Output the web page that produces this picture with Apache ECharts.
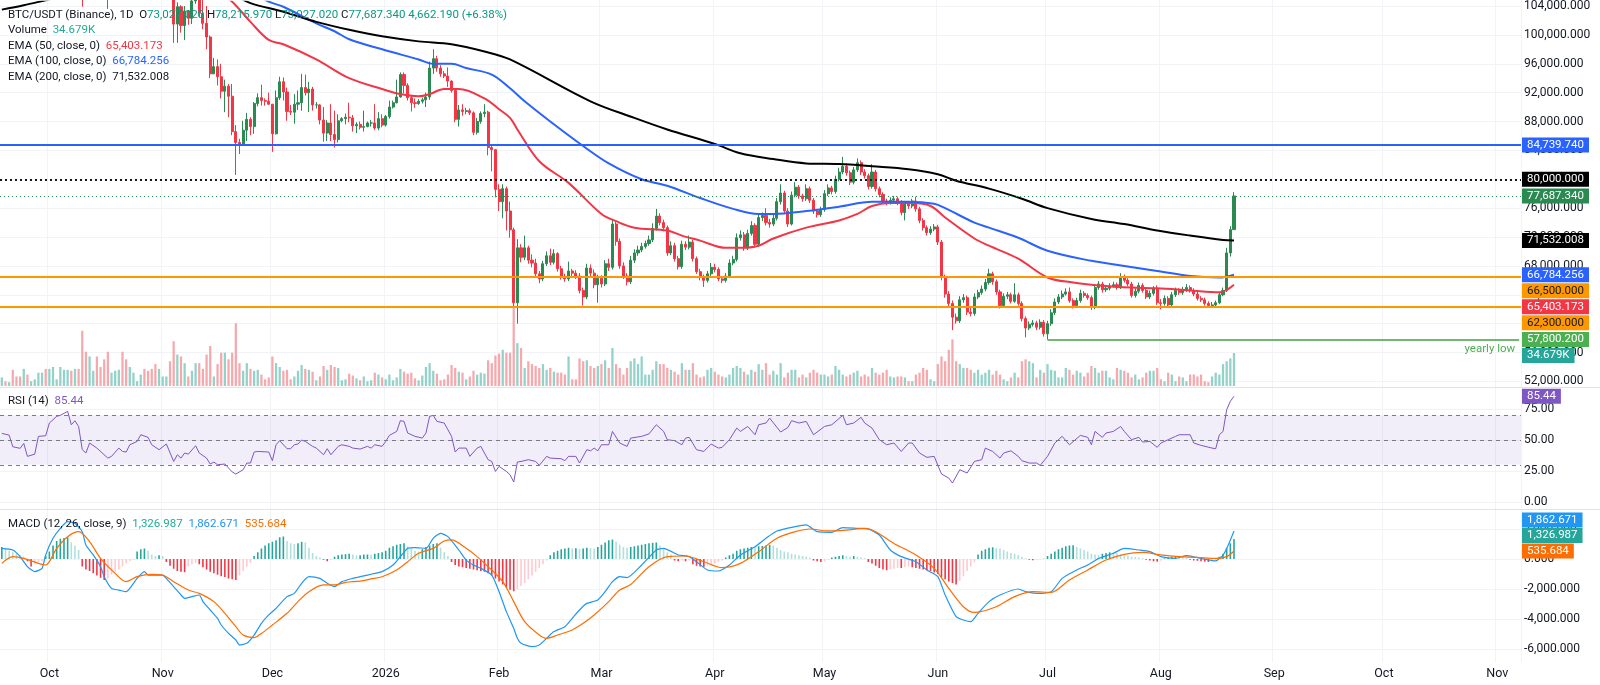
<!DOCTYPE html>
<html>
<head>
<meta charset="utf-8">
<title>BTC/USDT 1D</title>
<script src="https://cdn.jsdelivr.net/npm/echarts@6/dist/echarts.min.js"></script>
<style>
  html, body { margin: 0; padding: 0; background: #fff; }
  #chart { width: 1600px; height: 685px; }
</style>
</head>
<body>
<div id="chart"></div>
<script>
// daily candles, prices in thousands of USDT (open of a day = close of the day before)
const START_DATE = '2025-09-18';
const AXIS_DAYS = 416;
const FIRST_OPEN = 116.4;

const close = [
  117.1,115.7,115.7,115.3,112.7,112.0,113.3,109.0,109.7,109.7,
  112.1,114.4,114.0,118.6,120.6,122.3,122.4,123.5,124.7,121.4,
  123.3,121.7,113.2,110.6,115.2,115.3,113.0,110.7,108.2,106.4,
  107.2,108.6,110.6,108.4,107.6,110.0,111.0,111.6,114.5,114.1,
  112.9,110.0,108.3,109.6,110.1,110.5,106.5,101.5,103.9,101.3,
  103.3,102.3,104.7,106.0,103.0,101.6,99.7,94.6,95.6,94.2,
  92.2,92.9,91.5,86.6,85.1,84.7,86.8,88.3,87.3,90.5,
  91.3,90.9,90.8,90.4,86.3,91.3,93.5,92.1,89.4,89.3,
  90.4,90.6,92.7,92.0,92.5,90.3,90.3,88.2,86.4,87.8,
  86.2,85.5,88.1,88.4,88.6,88.5,87.4,87.6,87.2,87.3,
  87.8,87.8,87.1,88.4,87.5,88.7,90.0,90.6,91.4,94.5,
  93.0,91.3,90.6,90.5,90.8,91.0,91.4,95.4,96.7,95.4,
  94.6,94.3,93.6,92.3,88.3,89.6,89.4,89.5,89.2,86.5,
  88.0,89.1,89.3,84.4,84.1,78.6,76.9,78.7,75.6,73.0,
  62.9,70.5,69.2,70.5,68.8,68.4,66.9,66.2,68.3,69.4,
  68.5,69.7,67.6,66.5,66.2,67.3,67.0,66.6,64.6,63.7,
  67.7,67.0,65.4,66.3,65.5,68.3,67.8,73.8,71.4,68.0,
  66.6,65.8,68.8,69.8,70.2,70.7,71.1,71.6,73.2,74.9,
  74.0,73.3,69.8,70.8,69.0,67.9,71.0,70.6,71.3,69.0,
  67.2,66.4,66.0,66.9,67.8,67.5,66.2,66.0,66.6,68.4,
  68.9,71.9,72.3,70.5,72.5,73.6,71.0,74.7,75.0,74.0,
  73.8,74.6,76.9,78.1,75.6,73.8,77.8,78.9,77.7,77.3,
  78.7,77.1,75.6,75.1,75.8,78.0,78.8,78.3,80.0,81.0,
  81.8,80.9,79.6,81.3,82.3,81.0,80.5,79.0,81.0,78.7,
  77.9,77.0,76.8,77.1,77.3,76.8,75.4,76.6,76.3,77.0,
  75.9,74.3,73.3,72.6,73.1,73.4,71.3,66.4,64.1,62.8,
  60.9,60.4,63.3,63.6,61.6,61.4,63.7,64.3,64.8,65.7,
  66.9,65.8,64.4,62.5,63.8,64.0,63.1,64.0,62.8,60.7,
  59.4,59.9,60.1,59.5,60.2,58.6,60.0,61.5,63.0,63.7,
  64.1,64.4,63.2,62.5,63.2,64.2,63.9,63.6,62.3,65.0,
  65.5,64.7,64.9,65.2,65.4,65.0,66.5,66.0,65.5,63.9,
  64.5,65.3,64.6,63.7,64.2,64.8,62.9,62.8,63.5,62.6,
  64.0,64.6,64.3,64.7,65.0,64.6,64.1,63.5,63.3,62.8,
  62.5,62.6,62.9,64.0,64.6,69.8,73.027,77.687
];

const high = [
  117.9,117.5,116.2,115.9,115.4,113.3,114.0,113.4,110.3,110.0,
  112.4,114.5,114.9,118.6,121.0,123.9,122.9,125.1,126.2,125.0,
  124.2,123.8,122.5,113.5,115.8,116.0,115.0,113.6,111.1,109.2,
  107.5,109.4,111.7,114.0,109.0,111.3,112.0,111.9,114.8,116.4,
  116.1,113.6,111.5,111.2,110.6,111.2,110.8,106.6,104.5,104.1,
  104.0,103.4,105.0,106.6,107.5,105.3,104.0,99.9,96.8,96.6,
  96.0,93.8,93.2,93.2,87.5,85.6,88.1,89.2,88.6,90.7,
  91.9,93.1,91.2,92.0,90.4,92.3,94.2,94.1,92.7,90.3,
  91.8,92.3,94.6,94.5,93.5,92.8,90.7,90.4,90.0,88.2,
  90.4,89.5,89.0,88.6,89.1,90.6,88.9,87.9,88.0,89.5,
  88.0,88.2,90.4,89.3,89.0,88.9,90.9,90.9,93.8,94.8,
  94.8,93.3,91.6,91.2,91.1,91.3,92.0,96.3,98.0,97.1,
  95.8,95.0,95.5,93.7,92.6,90.3,90.4,89.9,89.8,89.4,
  88.5,89.4,90.4,89.5,84.8,84.2,79.3,79.3,79.0,76.9,
  73.3,71.7,71.0,72.2,70.8,69.6,69.0,67.3,68.7,70.0,
  70.4,70.3,69.9,68.0,66.9,68.6,67.6,67.4,67.0,65.0,
  68.3,68.2,67.5,66.8,66.7,68.8,69.0,74.4,74.1,71.8,
  68.5,67.0,69.4,70.3,70.8,71.2,71.5,72.2,73.9,75.9,
  75.3,74.4,73.6,71.4,71.2,69.4,71.5,71.4,72.2,71.6,
  69.3,67.6,66.8,67.3,68.4,68.3,67.8,66.6,67.0,68.9,
  69.4,72.5,72.9,72.7,73.0,74.2,73.9,75.2,75.4,76.0,
  74.5,75.1,77.4,79.3,78.4,76.0,78.3,79.6,79.2,78.0,
  79.3,79.0,77.4,75.9,76.2,78.5,79.3,79.1,80.5,81.6,
  83.1,82.2,81.2,81.7,82.9,82.6,81.4,80.8,82.1,81.3,
  79.0,78.2,77.3,77.5,77.7,77.6,77.1,77.0,76.9,77.3,
  77.6,76.2,74.6,73.6,73.5,73.8,73.7,71.6,66.8,64.5,
  63.2,61.4,63.8,64.1,63.9,62.2,64.2,64.7,65.3,66.2,
  67.6,67.2,66.1,64.7,64.2,64.4,64.3,65.6,64.3,63.1,
  61.0,60.3,60.5,60.4,60.6,60.5,60.4,62.0,63.5,64.1,
  64.6,64.9,65.0,63.5,63.6,64.7,64.5,64.2,63.9,65.4,
  65.9,65.8,65.3,65.6,65.8,65.7,67.0,66.8,66.3,65.8,
  64.9,65.7,65.6,64.9,64.6,65.2,65.3,63.4,63.9,63.8,
  64.4,65.0,64.9,65.1,65.5,65.3,64.9,64.4,63.8,63.6,
  63.1,63.0,63.2,64.4,65.0,70.5,73.5,78.216
];

const low = [
  116.0,115.2,115.4,115.1,112.0,111.0,111.1,108.6,108.6,109.1,
  109.3,111.6,112.6,113.9,118.0,119.3,121.6,122.0,123.0,120.6,
  121.0,119.6,103.9,109.7,109.6,113.8,110.0,110.1,107.5,103.6,
  106.4,106.1,107.5,107.4,106.9,107.5,109.6,110.8,111.3,113.8,
  112.2,109.5,106.3,108.6,109.4,109.5,105.3,98.9,98.9,100.3,
  99.3,101.4,101.5,104.3,102.5,100.8,98.0,94.0,94.6,93.0,
  91.2,89.3,88.6,86.1,80.6,83.5,84.7,85.3,86.1,86.3,
  90.1,90.2,90.2,90.3,83.8,86.2,91.0,90.9,88.1,88.9,
  87.7,89.6,89.5,91.6,89.3,89.5,89.8,87.6,85.2,85.3,
  85.3,84.4,85.1,87.9,87.6,87.9,86.6,86.4,86.9,86.6,
  87.2,87.3,86.8,86.8,87.2,87.3,88.4,89.8,90.5,91.3,
  91.9,90.9,89.4,89.9,90.3,90.5,90.0,91.0,94.6,94.9,
  94.2,94.0,92.8,92.0,87.9,87.3,88.8,89.0,88.9,86.1,
  86.2,87.7,88.6,83.3,81.1,77.5,75.6,74.6,72.9,71.9,
  62.3,60.0,68.5,68.8,68.3,67.8,66.5,65.6,65.9,68.0,
  68.1,68.2,67.2,66.1,65.8,65.9,66.6,66.2,64.2,62.5,
  63.4,66.6,64.9,62.9,65.0,65.2,67.3,67.5,70.8,67.6,
  66.2,65.3,65.5,68.4,69.4,69.9,70.4,70.8,71.3,72.9,
  73.6,72.8,69.4,69.5,68.6,67.5,67.6,70.2,70.3,68.6,
  66.9,66.0,65.1,65.7,66.6,67.1,65.9,65.6,65.7,66.3,
  68.1,68.6,71.5,70.1,70.2,72.2,70.6,70.7,74.2,73.6,
  73.3,73.5,74.3,76.5,75.2,73.4,73.6,77.5,77.3,76.9,
  77.0,76.7,75.2,74.7,74.8,75.5,77.7,77.9,78.0,79.7,
  80.7,80.5,79.2,79.3,81.0,80.6,80.1,78.6,78.7,78.3,
  77.5,76.6,76.4,76.5,76.9,76.4,75.0,74.3,75.9,76.0,
  75.5,73.9,72.9,72.2,72.3,72.8,70.9,66.0,63.6,62.3,
  59.1,60.0,60.1,62.9,61.2,61.0,61.1,63.4,64.0,64.5,
  65.4,65.4,64.0,62.1,62.2,63.4,62.8,62.9,62.5,60.3,
  58.1,59.1,59.6,59.1,59.2,58.2,57.8002,59.7,61.2,62.7,
  63.4,63.9,62.9,62.1,62.2,62.9,63.6,63.3,61.9,62.0,
  64.7,64.3,64.4,64.6,65.0,64.7,64.8,65.7,65.2,63.6,
  63.6,64.2,64.3,63.4,63.4,63.9,62.6,62.0,62.5,62.2,
  62.4,63.7,64.0,64.0,64.4,64.3,63.8,63.2,63.0,62.5,
  62.2,62.3,62.4,62.7,63.8,64.4,69.3,73.027
];

// volume, thousands of BTC
const volume = [
  9,5,4,17,10,10,18,12,5,7,
  14,14,18,18,20,7,20,17,17,16,
  18,18,58,36,31,16,31,20,28,36,
  14,16,17,36,28,20,14,5,12,18,
  16,18,23,18,10,10,26,47,33,31,
  24,10,16,24,24,18,33,42,10,23,
  35,35,28,35,66,24,16,24,18,16,
  17,12,7,9,31,24,20,16,17,7,
  10,16,22,18,17,15,6,10,21,17,
  22,20,19,6,7,13,11,8,6,10,
  5,6,14,12,9,7,12,6,9,18,
  15,13,14,8,6,11,20,24,16,13,
  6,7,12,22,19,15,14,7,10,16,
  12,14,13,27,24,32,34,38,35,35,
  82,45,40,19,26,23,21,19,23,17,
  19,15,14,14,12,31,7,7,29,26,
  27,21,19,21,23,27,19,40,23,19,
  12,19,26,29,23,31,12,12,17,26,
  23,23,19,17,15,12,24,17,17,24,
  12,9,10,17,19,15,12,10,9,12,
  19,21,19,15,12,17,15,23,17,24,
  12,16,12,24,9,14,17,17,9,12,
  9,14,17,14,12,12,10,12,21,17,
  12,10,12,14,16,10,12,10,19,14,
  12,14,17,10,9,10,10,9,5,5,
  12,14,19,17,7,5,23,31,26,38,
  49,26,23,19,19,17,14,17,12,14,
  17,12,16,12,7,5,9,14,9,26,
  28,26,24,9,17,14,23,17,16,9,
  9,19,17,12,16,14,10,14,21,19,
  14,16,16,9,7,19,17,16,14,9,
  12,7,9,14,16,16,19,7,5,14,
  12,5,10,9,5,12,12,10,12,5,
  4,10,14,12,23,26,29,34.679
];

// EMA lines: [day index, value in thousands]
const ema50 = [[0,113],[18,115.5],[35,113.5],[46,111.2],[56,107.5],[63,104.6],[68,101.8],[73,99.3],[77,98.7],[86,96.6],[95,94.0],[104,92.5],[109,91.8],[114,91.5],[117,91.8],[121,92.5],[125,92.5],[132,91.2],[136,89.7],[139,88.5],[141,86.9],[147,82.5],[155,79.5],[164,75.2],[168,74.2],[173,73.3],[182,72.9],[186,72.2],[191,71.5],[198,70.5],[202,70.5],[207,70.8],[211,71.8],[220,73.3],[229,74.3],[234,75.2],[238,76.3],[243,76.7],[249,76.7],[254,76.3],[258,74.7],[266,71.8],[270,70.8],[278,69.0],[286,66.4],[293,65.7],[300,65.3],[309,65.0],[316,64.9],[325,64.6],[333,64.35],[337,65.403]];
const ema100 = [[0,111],[20,112.3],[40,112],[50,110.5],[60,108.5],[68,106.2],[73,104.6],[77,103.9],[86,101.6],[91,100.5],[95,99.4],[104,98.0],[114,96.6],[118,96.0],[123,96.0],[127,95.4],[134,94.5],[139,92.6],[143,90.8],[150,88.0],[159,84.6],[166,82.2],[175,80.0],[182,79.1],[191,77.4],[200,75.9],[207,75.2],[211,75.2],[220,75.6],[229,76.2],[238,76.9],[248,76.9],[255,76.6],[258,76.0],[266,74.0],[270,73.3],[278,71.9],[286,70.1],[298,68.7],[307,68.0],[316,67.3],[325,66.6],[333,66.4],[337,66.784]];
const ema200 = [[0,103.5],[6,104.1],[12,104.8],[25,106.3],[45,107.3],[58,106.8],[64,105.4],[68,104.4],[77,103.2],[86,101.8],[95,100.7],[104,99.8],[114,99.1],[123,98.7],[132,97.7],[139,96.6],[161,90.8],[173,88.5],[182,86.9],[195,84.9],[202,83.6],[211,82.8],[220,82.2],[229,82.1],[238,81.8],[248,81.4],[256,80.7],[261,79.8],[270,78.7],[279,77.3],[286,76.0],[298,74.5],[307,73.8],[316,72.9],[325,72.2],[334,71.6],[337,71.532]];

// RSI (14): [day index, value]
const rsi = [[0,55.4],[2,54.0],[3,44.6],[5,43.3],[6,47.3],[7,36.8],[9,38.6],[10,53.0],[12,53.5],[13,63.8],[15,69.2],[16,70.0],[18,73.2],[19,62.4],[20,65.6],[21,61.0],[22,42.2],[23,39.5],[24,47.6],[26,43.5],[29,35.4],[30,36.8],[32,43.5],[33,40.8],[34,40.3],[35,46.2],[37,48.9],[38,54.3],[40,52.2],[41,46.2],[43,42.2],[45,46.8],[47,32.7],[48,38.1],[49,35.4],[50,39.5],[51,38.6],[53,45.4],[54,39.5],[56,35.4],[57,30.6],[58,32.2],[59,30.0],[61,30.6],[63,24.2],[64,22.5],[66,26.0],[67,31.4],[68,31.4],[69,40.3],[70,40.8],[73,40.3],[74,33.3],[75,46.2],[76,49.5],[78,43.0],[79,43.0],[80,46.2],[81,46.8],[82,50.0],[83,48.9],[85,44.9],[86,43.5],[88,38.1],[89,43.0],[90,38.1],[92,44.9],[93,46.2],[95,44.9],[96,43.5],[98,42.7],[100,44.9],[101,43.5],[102,46.2],[104,44.9],[105,48.9],[106,53.8],[108,57.0],[109,65.7],[110,65.1],[111,55.7],[113,53.0],[115,51.6],[116,55.7],[117,69.2],[118,70.0],[119,65.1],[121,63.8],[123,53.0],[124,40.3],[125,43.5],[127,43.5],[128,36.8],[130,43.5],[131,44.9],[133,34.1],[134,32.7],[135,24.6],[136,28.7],[138,24.6],[139,21.9],[140,16.0],[141,32.2],[142,32.7],[144,34.1],[146,32.7],[147,29.5],[149,36.8],[150,35.4],[153,34.9],[154,33.3],[155,36.8],[157,36.8],[158,31.4],[160,42.2],[161,41.3],[162,43.5],[163,41.3],[164,46.2],[166,46.2],[167,57.0],[169,47.6],[171,44.9],[172,51.6],[175,53.0],[177,55.0],[179,62.4],[181,57.0],[182,50.3],[184,49.5],[186,46.2],[187,51.6],[188,52.2],[190,42.2],[192,40.8],[194,46.8],[196,43.5],[197,44.1],[199,50.3],[201,59.7],[202,57.0],[204,61.0],[206,54.3],[207,62.4],[209,63.8],[210,67.8],[213,56.5],[215,60.2],[216,65.7],[218,63.8],[220,65.1],[222,54.3],[225,61.0],[227,62.4],[230,70.0],[231,62.4],[233,63.8],[235,68.4],[236,63.8],[238,59.7],[240,50.3],[242,46.2],[244,47.6],[246,40.8],[248,47.6],[249,47.6],[251,39.5],[253,36.0],[255,36.8],[257,22.5],[259,19.2],[260,15.2],[262,26.0],[264,23.3],[266,32.7],[268,34.1],[269,43.5],[271,40.8],[273,35.4],[274,39.5],[276,41.3],[278,36.8],[279,33.3],[281,31.4],[283,31.4],[284,29.5],[286,36.8],[288,47.6],[290,53.0],[292,46.2],[295,53.8],[297,52.2],[298,46.2],[299,57.0],[301,52.2],[302,55.7],[304,57.0],[306,61.0],[307,57.0],[309,50.3],[311,52.2],[312,48.4],[314,48.9],[316,44.1],[317,47.6],[319,50.3],[321,53.0],[322,54.3],[325,54.3],[326,47.6],[328,45.7],[331,43.5],[332,43.0],[333,54.3],[334,57.0],[335,74.6],[336,81.4],[337,85.44]];

// MACD (12, 26, 9), thousands: line, signal and daily histogram
const macdLine = [[0,0.71],[3,0.6],[5,0.16],[7,-0.51],[9,-0.84],[11,-0.62],[12,0.27],[14,1.38],[16,2.04],[18,2.49],[20,2.38],[22,1.82],[23,0.93],[25,0.27],[27,-0.51],[28,-1.18],[30,-1.96],[32,-2.07],[34,-2.18],[35,-1.96],[37,-1.29],[39,-0.84],[40,-1.07],[42,-1.07],[44,-1.07],[45,-1.29],[47,-1.84],[49,-2.4],[50,-2.62],[52,-2.51],[54,-2.4],[55,-2.84],[57,-3.4],[59,-3.96],[60,-4.4],[62,-4.96],[64,-5.4],[65,-5.73],[67,-5.62],[69,-5.07],[71,-4.29],[73,-3.73],[75,-3.29],[78,-2.51],[80,-2.29],[82,-1.62],[84,-1.18],[87,-1.29],[89,-1.62],[91,-1.84],[93,-1.51],[96,-1.29],[98,-1.18],[100,-1.07],[102,-0.96],[104,-0.84],[107,-0.40],[109,0.16],[111,0.71],[113,0.76],[116,0.71],[118,1.38],[120,1.71],[122,1.49],[125,0.6],[127,-0.07],[129,-0.40],[131,-0.62],[134,-1.07],[136,-2.18],[138,-3.51],[140,-4.62],[141,-5.29],[142,-5.62],[145,-5.84],[147,-5.73],[149,-5.29],[151,-4.84],[154,-4.51],[156,-3.96],[158,-3.4],[160,-2.96],[163,-2.73],[165,-2.18],[167,-1.51],[169,-1.18],[171,-1.24],[175,-0.4],[179,0.6],[181,0.71],[185,0.27],[188,0.16],[190,-0.18],[193,-0.73],[196,-0.8],[199,-0.4],[202,0.27],[206,0.82],[209,1.38],[212,1.87],[217,2.16],[220,2.27],[223,1.82],[227,1.78],[230,2.09],[234,2.04],[237,2.0],[240,1.6],[243,0.6],[246,0.16],[250,-0.18],[253,-0.73],[256,-1.18],[258,-2.4],[261,-3.84],[263,-4.07],[265,-4.18],[267,-3.62],[270,-2.84],[273,-2.4],[278,-2.0],[280,-2.18],[283,-2.29],[287,-2.18],[290,-1.29],[294,-0.73],[297,-0.4],[300,0.04],[304,0.38],[307,0.71],[311,0.6],[314,0.49],[317,0.16],[321,0.04],[324,0.22],[327,0.09],[332,-0.13],[333,0.04],[334,0.25],[335,0.7],[336,1.25],[337,1.863]];
const macdSignal = [[0,-0.29],[3,0.16],[6,0.04],[10,-0.29],[12,-0.4],[15,0.71],[18,1.49],[21,1.82],[24,1.16],[27,0.04],[31,-0.96],[34,-1.51],[37,-1.18],[41,-1.02],[44,-1.07],[47,-1.51],[51,-2.07],[54,-2.29],[58,-2.84],[61,-3.62],[64,-4.51],[66,-5.07],[69,-5.24],[71,-4.96],[74,-4.4],[78,-3.62],[81,-2.84],[84,-2.18],[88,-1.73],[91,-1.73],[94,-1.56],[98,-1.47],[101,-1.33],[104,-1.18],[108,-0.73],[111,-0.18],[114,0.38],[118,0.71],[121,1.2],[123,1.27],[127,0.71],[130,0.16],[133,-0.51],[137,-1.51],[140,-2.84],[143,-4.18],[147,-5.07],[149,-5.29],[152,-5.07],[156,-4.73],[159,-4.29],[162,-3.73],[166,-2.84],[169,-2.07],[172,-1.7],[177,-0.51],[182,0.16],[187,0.2],[192,-0.18],[197,-0.58],[202,-0.29],[207,0.49],[212,1.38],[217,1.82],[221,2.0],[226,1.87],[231,1.93],[236,2.04],[239,1.82],[244,1.04],[250,0.27],[255,-0.62],[259,-1.96],[263,-3.18],[266,-3.56],[272,-3.18],[277,-2.51],[282,-2.18],[287,-2.22],[292,-1.4],[297,-0.73],[302,-0.07],[307,0.31],[312,0.44],[317,0.27],[322,0.16],[327,0.11],[332,0.04],[335,0.16],[337,0.536]];
const macdHist = [
  0.8,0.7,0.55,0.45,0.35,0.25,0.15,-0.15,-0.5,-0.3,
  -0.2,-0.15,0.2,0.5,0.9,1.2,1.35,1.4,1.45,1.1,
  0.9,0.6,-0.5,-0.7,-0.8,-0.95,-1.1,-1.25,-1.4,-1.3,
  -1.05,-0.85,-0.7,-0.5,-0.3,-0.15,-0.05,0.5,0.65,0.7,
  0.55,0.3,0.2,0.25,0.2,-0.2,-0.45,-0.65,-0.8,-0.85,
  -0.88,-0.5,-0.35,-0.25,-0.35,-0.55,-0.7,-0.85,-0.95,-1.05,
  -1.15,-1.2,-1.3,-1.35,-1.4,-1.1,-0.8,-0.5,-0.25,0.2,
  0.45,0.7,0.9,1.05,1.15,1.25,1.45,1.5,1.2,1.05,
  1.0,1.05,1.15,1.1,0.75,0.4,0.2,0.1,-0.05,-0.15,
  -0.05,0.15,0.25,0.3,0.32,0.35,0.3,0.25,0.25,0.3,
  0.3,0.28,0.35,0.4,0.45,0.55,0.75,0.85,0.95,1.0,
  1.05,0.85,0.7,0.55,0.5,0.65,0.8,0.9,1.0,1.05,
  0.75,0.45,0.2,-0.2,-0.4,-0.5,-0.55,-0.6,-0.65,-0.7,
  -0.75,-0.8,-0.85,-0.95,-1.1,-1.3,-1.5,-1.7,-1.9,-2.05,
  -2.15,-2.0,-1.8,-1.6,-1.35,-1.1,-0.85,-0.6,-0.35,-0.1,
  0.25,0.45,0.55,0.65,0.7,0.75,0.7,0.72,0.68,0.7,
  0.75,0.72,0.7,0.8,0.95,1.1,1.25,1.3,1.15,0.95,
  0.8,0.75,0.8,0.85,0.9,0.95,1.0,1.05,1.08,1.1,
  0.9,0.7,0.45,0.3,-0.1,-0.15,-0.1,-0.15,-0.1,-0.35,
  -0.45,-0.5,-0.52,-0.45,-0.35,-0.3,-0.2,-0.1,0.1,0.25,
  0.35,0.55,0.65,0.7,0.75,0.8,0.78,0.85,0.87,0.9,
  0.95,0.9,0.75,0.6,0.5,0.45,0.35,0.3,0.25,0.2,
  0.15,0.1,-0.1,-0.15,-0.2,-0.15,-0.05,0.1,0.15,0.2,
  0.25,0.2,0.15,0.2,0.15,0.1,0.05,-0.2,-0.3,-0.45,
  -0.6,-0.7,-0.75,-0.7,-0.65,-0.6,-0.6,-0.55,-0.5,-0.55,
  -0.6,-0.65,-0.7,-0.75,-0.8,-0.9,-1.0,-1.2,-1.35,-1.5,
  -1.6,-1.7,-1.45,-1.15,-0.8,-0.5,-0.2,0.3,0.55,0.65,
  0.75,0.78,0.72,0.7,0.6,0.5,0.4,0.35,0.25,0.15,
  0.05,-0.05,-0.08,-0.05,-0.03,0.02,0.2,0.35,0.5,0.65,
  0.75,0.85,0.9,0.92,0.8,0.7,0.6,0.5,0.35,0.3,
  0.25,0.35,0.4,0.45,0.42,0.38,0.3,0.25,0.2,0.15,
  0.12,0.1,0.05,-0.05,-0.1,-0.15,-0.18,-0.12,0.05,0.1,
  0.15,0.18,0.15,0.12,0.08,-0.05,-0.1,-0.12,-0.15,-0.18,
  -0.2,-0.15,-0.1,0.15,0.35,0.75,1.05,1.327
];

// horizontal levels (thousands)
const LEVEL_BLUE = 84.73974;
const LEVEL_ROUND = 80;
const LEVEL_ORANGE_HI = 66.5;
const LEVEL_ORANGE_LO = 62.3;
const YEARLY_LOW = 57.8002;
const YEARLY_LOW_DATE = '2026-07-01';

const UP = '#2b8a52', DOWN = '#f23645';
const VOL_UP = '#92d2c9', VOL_DOWN = '#f6a9ad';
const TXT = '#131722';
const GRID_LINE = '#f2f3f6';
const MONTHS = ['Jan','Feb','Mar','Apr','May','Jun','Jul','Aug','Sep','Oct','Nov','Dec'];

// dates on the time axis
const dates = [];
const t0 = Date.parse(START_DATE + 'T00:00:00Z');
for (let i = 0; i < AXIS_DAYS; i++) dates.push(new Date(t0 + i * 86400000).toISOString().slice(0, 10));

const opens = close.map((c, i) => i ? close[i - 1] : FIRST_OPEN);
const candles = close.map((c, i) => [opens[i], c, low[i], high[i]]);
const volBars = volume.map((v, i) => ({ value: v, itemStyle: { color: close[i] >= opens[i] ? VOL_UP : VOL_DOWN } }));
const histBars = macdHist.map((v, i) => {
  const prev = i ? macdHist[i - 1] : v;
  let c;
  if (v >= 0) c = v >= prev ? '#26a69a' : '#b2dfdb';
  else c = v <= prev ? '#f23645' : '#fccbcf';
  return { value: v, itemStyle: { color: c } };
});
const toCat = arr => arr.map(([d, v]) => [dates[d], v]);

const fmt = (n, d) => n.toLocaleString('en-US', { minimumFractionDigits: d, maximumFractionDigits: d });
const isMonthStart = (idx, val) => val.slice(8) === '01';

function xAxisFor(gi, withLabels) {
  return {
    type: 'category', gridIndex: gi, data: dates, boundaryGap: true,
    axisLine: { show: false }, axisTick: { show: false },
    axisLabel: withLabels ? {
      show: true, interval: isMonthStart, color: TXT, fontSize: 12.5, margin: 5,
      formatter: v => v.slice(5, 7) === '01' ? v.slice(0, 4) : MONTHS[+v.slice(5, 7) - 1]
    } : { show: false },
    splitLine: withLabels ? { show: true, interval: isMonthStart, lineStyle: { color: GRID_LINE } } : { show: false }
  };
}

const yCommon = {
  type: 'value', position: 'right', scale: false,
  axisLine: { show: false }, axisTick: { show: false },
  splitLine: { show: true, showMinLine: false, showMaxLine: false, lineStyle: { color: GRID_LINE } }
};

const option = {
  animation: false,
  backgroundColor: '#ffffff',
  textStyle: { fontFamily: 'Roboto, sans-serif' },
  grid: [
    { left: 0, right: 79, top: 0, height: 410.3 },     // price
    { left: 0, right: 79, top: 276, height: 110 },     // volume
    { left: 0, right: 79, top: 378.3, height: 154.4 }, // RSI
    { left: 0, right: 79, top: 499, height: 180 },     // MACD
    { left: 0, right: 79, top: 0, height: 662 }        // time axis
  ],
  xAxis: [xAxisFor(0, false), xAxisFor(1, false), xAxisFor(2, false), xAxisFor(3, false), xAxisFor(4, true)],
  yAxis: [
    Object.assign({}, yCommon, {
      gridIndex: 0, min: 48, max: 104.593, interval: 4,
      axisLabel: { color: TXT, fontSize: 12, margin: 3, showMinLabel: false, showMaxLabel: false,
        formatter: v => (v < 52 || v > 104.001) ? '' : fmt(v * 1000, 3) }
    }),
    { type: 'value', gridIndex: 1, min: 0, max: 115.5, show: false },
    Object.assign({}, yCommon, {
      gridIndex: 2, min: -25, max: 100, interval: 25,
      axisLabel: { color: TXT, fontSize: 12, margin: 3, showMinLabel: false, showMaxLabel: false,
        formatter: v => (v < 0 || v > 75) ? '' : v.toFixed(2) }
    }),
    Object.assign({}, yCommon, {
      gridIndex: 3, min: -8, max: 4, interval: 2,
      axisLabel: { color: TXT, fontSize: 12, margin: 3, showMinLabel: false, showMaxLabel: false,
        formatter: v => (v < -6 || v > 2) ? '' : fmt(v * 1000, 3) }
    }),
    { type: 'value', gridIndex: 4, show: false }
  ],
  series: [
    {
      type: 'candlestick', name: 'BTC/USDT', xAxisIndex: 0, yAxisIndex: 0, data: candles, barWidth: '70%',
      itemStyle: { color: UP, color0: DOWN, borderColor: UP, borderColor0: DOWN, borderWidth: 1 },
      markLine: {
        symbol: ['none', 'none'], silent: true, label: { show: false },
        data: [
          { yAxis: LEVEL_BLUE, lineStyle: { color: '#2962ff', width: 2, type: 'solid' } },
          { yAxis: LEVEL_ROUND, lineStyle: { color: TXT, width: 2, type: [2, 3] } },
          { yAxis: close[close.length - 1], lineStyle: { color: UP, width: 1, type: [1, 3] } },
          { yAxis: LEVEL_ORANGE_HI, lineStyle: { color: '#ff9800', width: 2, type: 'solid' } },
          { yAxis: LEVEL_ORANGE_LO, lineStyle: { color: '#ff9800', width: 2, type: 'solid' } },
          [
            { coord: [YEARLY_LOW_DATE, YEARLY_LOW], lineStyle: { color: '#43a047', width: 1.5, type: 'solid' },
              label: { show: true, position: 'insideEndBottom', formatter: 'yearly low', color: '#4caf50', fontSize: 11.5, distance: 4 } },
            { coord: [dates[AXIS_DAYS - 1], YEARLY_LOW] }
          ]
        ]
      }
    },
    { type: 'line', name: 'EMA 50', xAxisIndex: 0, yAxisIndex: 0, data: toCat(ema50), smooth: 0.35, showSymbol: false, lineStyle: { color: '#f23645', width: 2 } },
    { type: 'line', name: 'EMA 100', xAxisIndex: 0, yAxisIndex: 0, data: toCat(ema100), smooth: 0.35, showSymbol: false, lineStyle: { color: '#2962ff', width: 2 } },
    { type: 'line', name: 'EMA 200', xAxisIndex: 0, yAxisIndex: 0, data: toCat(ema200), smooth: 0.35, showSymbol: false, lineStyle: { color: '#000000', width: 2 } },
    { type: 'bar', name: 'Volume', xAxisIndex: 1, yAxisIndex: 1, data: volBars, barWidth: '62%' },
    {
      type: 'line', name: 'RSI', xAxisIndex: 2, yAxisIndex: 2, data: toCat(rsi), showSymbol: false,
      lineStyle: { color: '#7e57c2', width: 1 },
      markArea: { silent: true, itemStyle: { color: 'rgba(126,87,194,0.1)' }, data: [[{ yAxis: 30 }, { yAxis: 70 }]] },
      markLine: {
        symbol: ['none', 'none'], silent: true, label: { show: false },
        lineStyle: { color: '#787b86', width: 1, type: [4, 4] },
        data: [{ yAxis: 70 }, { yAxis: 50 }, { yAxis: 30 }]
      }
    },
    { type: 'bar', name: 'Histogram', xAxisIndex: 3, yAxisIndex: 3, data: histBars, barWidth: 1.6 },
    { type: 'line', name: 'MACD', xAxisIndex: 3, yAxisIndex: 3, data: toCat(macdLine), smooth: 0.2, showSymbol: false, lineStyle: { color: '#2196f3', width: 1.2 } },
    { type: 'line', name: 'Signal', xAxisIndex: 3, yAxisIndex: 3, data: toCat(macdSignal), smooth: 0.3, showSymbol: false, lineStyle: { color: '#ff6d00', width: 1.2 } }
  ]
};

const chart = echarts.init(document.getElementById('chart'));
chart.setOption(option);

// ---- overlay texts: legends, price-scale tags, pane separators ----
const FONT = 'Roboto, sans-serif';
function rich(x, y, parts, size) {
  const styles = {};
  let text = '';
  parts.forEach(([s, c], k) => {
    styles['p' + k] = { fill: c, fontSize: size, fontFamily: FONT };
    text += '{p' + k + '|' + s + '}';
  });
  return { type: 'text', x, y, z: 100, silent: true,
    style: { text, rich: styles, fontSize: size, fontFamily: FONT, verticalAlign: 'middle', textVerticalAlign: 'middle' } };
}
function tag(y, text, bg, fg) {
  return { type: 'text', x: 1522, y, z: 110, silent: true,
    style: { text, fill: fg, backgroundColor: bg, padding: [2, 5, 1, 5], lineHeight: 12,
      fontSize: 11.5, fontFamily: FONT, align: 'left', verticalAlign: 'middle', textAlign: 'left', textVerticalAlign: 'middle' } };
}
function stackDown(items, h) {
  items.sort((a, b) => a.y - b.y);
  for (let k = 1; k < items.length; k++) if (items[k].y < items[k - 1].y + h) items[k].y = items[k - 1].y + h;
  return items;
}
function stackUp(items, h) {
  items.sort((a, b) => b.y - a.y);
  for (let k = 1; k < items.length; k++) if (items[k].y > items[k - 1].y - h) items[k].y = items[k - 1].y - h;
  return items;
}
const py = (axis, v) => chart.convertToPixel({ yAxisIndex: axis }, v);
const last = close.length - 1;

const priceTags = stackDown([
  { y: py(0, LEVEL_BLUE), t: '84,739.740', bg: '#2962ff', fg: '#fff' },
  { y: py(0, LEVEL_ROUND), t: '80,000.000', bg: '#000000', fg: '#fff' },
  { y: py(0, close[last]), t: '77,687.340', bg: UP, fg: '#fff' },
  { y: py(0, ema200[ema200.length - 1][1]), t: '71,532.008', bg: '#000000', fg: '#fff' },
  { y: py(0, ema100[ema100.length - 1][1]), t: '66,784.256', bg: '#2962ff', fg: '#fff' },
  { y: py(0, LEVEL_ORANGE_HI), t: '66,500.000', bg: '#ff9800', fg: TXT },
  { y: py(0, ema50[ema50.length - 1][1]), t: '65,403.173', bg: '#f23645', fg: '#fff' },
  { y: py(0, LEVEL_ORANGE_LO), t: '62,300.000', bg: '#ff9800', fg: TXT },
  { y: py(0, YEARLY_LOW), t: '57,800.200', bg: '#4caf50', fg: '#fff' },
  { y: py(1, volume[last]), t: '34.679K', bg: '#26a69a', fg: '#fff' }
], 16);
const macdTags = stackUp([
  { y: py(3, macdLine[macdLine.length - 1][1]), t: '1,862.671', bg: '#2196f3', fg: '#fff' },
  { y: py(3, macdHist[last]), t: '1,326.987', bg: '#26a69a', fg: '#fff' },
  { y: py(3, macdSignal[macdSignal.length - 1][1]), t: '535.684', bg: '#ff6d00', fg: '#fff' }
], 15.5);

const G = '#089981';
const graphics = [
  { type: 'line', z: 90, silent: true, shape: { x1: 0, y1: 387.5, x2: 1600, y2: 387.5 }, style: { stroke: '#e0e3eb', lineWidth: 1 } },
  { type: 'line', z: 90, silent: true, shape: { x1: 0, y1: 509.5, x2: 1600, y2: 509.5 }, style: { stroke: '#e0e3eb', lineWidth: 1 } },
  rich(8, 15, [['BTC/USDT (Binance), 1D  ', TXT], ['O', TXT], ['73,027.020 ', G], ['H', TXT], ['78,215.970 ', G],
    ['L', TXT], ['73,027.020 ', G], ['C', TXT], ['77,687.340 ', G], ['4,662.190 (+6.38%)', G]], 11.5),
  rich(8, 30.5, [['Volume  ', TXT], ['34.679K', '#22ab94']], 11.5),
  rich(8, 46, [['EMA (50, close, 0)  ', TXT], ['65,403.173', '#f23645']], 11.5),
  rich(8, 61.5, [['EMA (100, close, 0)  ', TXT], ['66,784.256', '#2962ff']], 11.5),
  rich(8, 77, [['EMA (200, close, 0)  ', TXT], ['71,532.008', TXT]], 11.5),
  rich(8, 401, [['RSI (14)  ', TXT], ['85.44', '#7e57c2']], 11.5),
  rich(8, 524, [['MACD (12, 26, close, 9)  ', TXT], ['1,326.987  ', '#22ab94'], ['1,862.671  ', '#2196f3'], ['535.684', '#ff6d00']], 11.5),
  tag(py(2, rsi[rsi.length - 1][1]), '85.44', '#7e57c2', '#fff')
];
priceTags.concat(macdTags).forEach(o => graphics.push(tag(o.y, o.t, o.bg, o.fg)));
chart.setOption({ graphic: graphics });
</script>
</body>
</html>
